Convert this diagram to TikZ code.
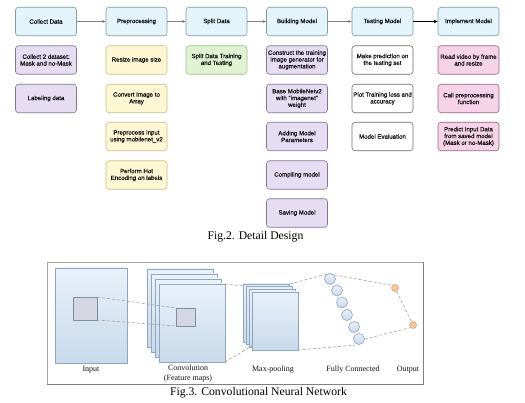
\documentclass[tikz,border=0pt]{standalone}
\usepackage{fontspec}
\setmainfont{Liberation Serif}
\newfontfamily\boxfont[FakeBold=0.6]{Liberation Sans}
\usetikzlibrary{arrows.meta}
\definecolor{hdrfill}{HTML}{E3F4FA}
\definecolor{hdrdraw}{HTML}{7F9AAA}
\definecolor{purfill}{HTML}{E6DDF3}
\definecolor{purdraw}{HTML}{857590}
\definecolor{yelfill}{HTML}{FDF7D3}
\definecolor{yeldraw}{HTML}{C9BE88}
\definecolor{grnfill}{HTML}{DFF3D3}
\definecolor{grndraw}{HTML}{9CC48A}
\definecolor{whtdraw}{HTML}{6E6E6E}
\definecolor{pinkfill}{HTML}{F6D3E6}
\definecolor{pinkdraw}{HTML}{946480}
\definecolor{txt}{HTML}{111111}
\definecolor{sheettop}{HTML}{E9F1F9}
\definecolor{sheetbot}{HTML}{C8DAEC}
\definecolor{sheetdraw}{HTML}{8EA6BE}
\definecolor{patchfill}{HTML}{D4D7E2}
\definecolor{patchdraw}{HTML}{7D8C9E}
\definecolor{outfill}{HTML}{F6C6A0}
\definecolor{outdraw}{HTML}{D49A6A}
\definecolor{dashc}{HTML}{A0A0A0}
\tikzset{
  stepbox/.style={draw, rounded corners=3pt, minimum width=61pt, minimum height=28.5pt,
    align=center, inner sep=1pt, text=txt, line width=0.6pt,
    font=\boxfont\fontsize{6.1}{6.8}\selectfont},
  hdr/.style={stepbox, fill=hdrfill, draw=hdrdraw},
  pur/.style={stepbox, fill=purfill, draw=purdraw},
  yel/.style={stepbox, fill=yelfill, draw=yeldraw},
  grn/.style={stepbox, fill=grnfill, draw=grndraw},
  wht/.style={stepbox, fill=white, draw=whtdraw},
  pnk/.style={stepbox, fill=pinkfill, draw=pinkdraw},
  flowarrow/.style={-{Stealth[length=3.5pt,width=3pt]}, draw=gray, line width=0.5pt},
  flowdark/.style={-{Stealth[length=4pt,width=3.5pt]}, draw=black, line width=0.9pt},
  mapsheet/.style={draw=sheetdraw, line width=0.5pt, top color=sheettop, bottom color=sheetbot},
  mappatch/.style={draw=patchdraw, fill=patchfill, line width=0.5pt},
  dashl/.style={draw=dashc, dashed, dash pattern=on 3pt off 2pt, line width=0.6pt},
  fcnode/.style={circle, draw=sheetdraw, line width=0.6pt, top color=sheettop, bottom color=sheetbot, minimum size=11pt, inner sep=0pt},
  outnode/.style={circle, draw=outdraw, fill=outfill, line width=0.5pt, minimum size=7pt, inner sep=0pt},
  cnnlbl/.style={font=\fontsize{8}{9}\selectfont, text=txt, inner sep=0pt},
  figcap/.style={font=\fontsize{11.7}{13}\selectfont, text=black, inner sep=0pt}
}
\begin{document}
\begin{tikzpicture}[x=1pt,y=-1pt]
\useasboundingbox (0,0) rectangle (525,403);
\fill[white] (0,0) rectangle (525,403);
% ---------- Fig. 2 ----------
\node[hdr] (h1) at (46,21.5) {Collect Data};
\node[hdr] (h2) at (136.5,21.5) {Preprocessing};
\node[hdr] (h3) at (216.5,21.5) {Split Data};
\node[hdr] (h4) at (297,21.5) {Building Model};
\node[hdr] (h5) at (382.5,21.5) {Testing Model};
\node[hdr] (h6) at (468.5,21.5) {Implement Model};
\draw[flowarrow] (h1) -- (h2);
\draw[flowarrow] (h2) -- (h3);
\draw[flowarrow] (h3) -- (h4);
\draw[flowarrow] (h4) -- (h5);
\draw[flowdark] (h5) -- (h6);
% column 1
\node[pur] (c1a) at (46,60) {Collect 2 dataset:\\Mask and no-Mask};
\node[pur] (c1b) at (46,98.5) {Labeling data};
% column 2
\node[yel] (c2a) at (136.5,60) {Resize image size};
\node[yel] (c2b) at (136.5,98.5) {Convert Image to\\Array};
\node[yel] (c2c) at (136.5,136.5) {Preprocess Input\\using mobilenet\_v2};
\node[yel] (c2d) at (136.5,175) {Perform Hot\\Encoding on labels};
% column 3
\node[grn] (c3a) at (216.5,60) {Split Data Training\\and Testing};
% column 4
\node[pur] (c4a) at (297,60) {Construct the training\\image generator for\\augmentation};
\node[pur] (c4b) at (297,98.5) {Base MobileNetv2\\with "imagenet"\\weight};
\node[pur] (c4c) at (297,136.5) {Adding Model\\Parameters};
\node[pur] (c4d) at (297,175) {Compiling model};
\node[pur] (c4e) at (297,213) {Saving Model};
% column 5
\node[wht] (c5a) at (382.5,60) {Make prediction on\\the testing set};
\node[wht] (c5b) at (382.5,98.5) {Plot Training loss and\\accuracy};
\node[wht] (c5c) at (382.5,136.5) {Model Evaluation};
% column 6
\node[pnk] (c6a) at (468.5,60) {Read video by frame\\and resize};
\node[pnk] (c6b) at (468.5,98.5) {Call preprocessing\\function};
\node[pnk] (c6c) at (468.5,136.5) {Predict Input Data\\from saved model\\(Mask or no-Mask)};
\node[figcap] (cap2) at (255.5,237) {Fig.2. Detail Design};
% ---------- Fig. 3 ----------
\draw[draw=gray!70, line width=0.6pt] (47,262) -- (423,262);
\draw[draw=gray!70, line width=0.6pt] (47,262) -- (47,385);
\draw[draw=gray, line width=1pt] (423,262) -- (423,385) -- (47,385);
% input
\path[mapsheet] (55,268) rectangle (127,363);
\path[mappatch] (73,297) rectangle (97,320);
\coordinate (ip1) at (97,297);
\coordinate (ip2) at (97,320);
% convolution sheets
\path[mapsheet] (147,269) rectangle (213,347);
\path[mapsheet] (151,274) rectangle (217,352);
\path[mapsheet] (155,279) rectangle (221,357);
\path[mapsheet] (159,284) rectangle (225,362);
\path[mappatch] (176,308) rectangle (195,326);
\coordinate (cp1) at (176,308);
\coordinate (cp2) at (176,326);
\draw[dashl] (ip1) -- (cp1);
\draw[dashl] (ip2) -- (cp2);
% max-pooling sheets
\path[mapsheet] (243,284) rectangle (289,342);
\path[mapsheet] (246,286.7) rectangle (292,344.7);
\path[mapsheet] (249,289.3) rectangle (295,347.3);
\path[mapsheet] (252,292) rectangle (298,350);
\coordinate (cv1) at (225,284);
\coordinate (cv2) at (225,362);
\coordinate (mp1) at (243,286);
\coordinate (mp2) at (252,346);
\draw[dashl] (cv1) -- (mp1);
\draw[dashl] (cv2) -- (mp2);
\coordinate (mp3) at (290,284);
\coordinate (mp4) at (298,350);
% fully connected
\node[fcnode] (f1) at (330,279) {};
\node[fcnode] (f2) at (337,290.5) {};
\node[fcnode] (f3) at (342,302.5) {};
\node[fcnode] (f4) at (347,315) {};
\node[fcnode] (f5) at (354,327) {};
\node[fcnode] (f6) at (359,339) {};
\draw[dashl] (mp3) -- (f1.north);
\draw[dashl] (mp4) -- (f6.south);
% output
\node[outnode] (o1) at (395,288) {};
\node[outnode] (o2) at (413,325) {};
\draw[dashl] (f1.north east) -- (o1.north west);
\draw[dashl] (f6.east) -- (o2.south west);
\draw[dashl] (o1) -- (o2);
% labels
\node[cnnlbl] (l1) at (91,370) {Input};
\node[cnnlbl] (l2) at (188,368) {Convolution};
\node[cnnlbl] (l3) at (188,379) {(Feature maps)};
\node[cnnlbl] (l4) at (273,370) {Max-pooling};
\node[cnnlbl] (l5) at (353,370) {Fully Connected};
\node[cnnlbl] (l6) at (408,370) {Output};
\node[figcap] (cap3) at (258.5,393) {Fig.3. Convolutional Neural Network};
\end{tikzpicture}
\end{document}
